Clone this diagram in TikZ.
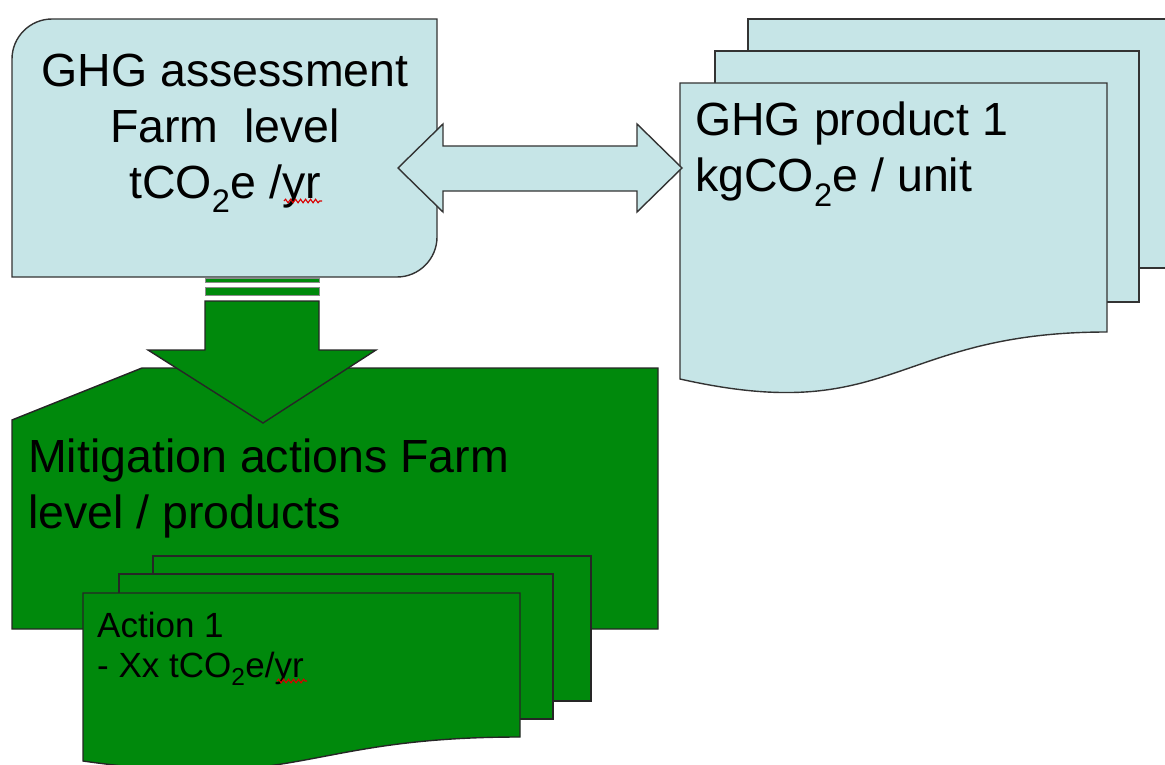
\documentclass[tikz,border=0pt]{standalone}
\usepackage{fontspec}
\setmainfont{Liberation Sans}
\usetikzlibrary{positioning,decorations.pathmorphing}
\definecolor{paleblue}{RGB}{198,229,231}
\definecolor{leafgreen}{RGB}{0,137,12}

\begin{document}
\begin{tikzpicture}[x=1pt,y=-1pt,
	bluepart/.style={fill=paleblue,draw=black!80,line width=1.4pt},
	greenpart/.style={fill=leafgreen,draw=black!85,line width=1.4pt},
	bigtext/.style={font=\fontsize{46.5}{56}\selectfont,inner sep=0pt},
	smalltext/.style={font=\fontsize{35}{40}\selectfont,inner sep=0pt},
	spell/.style={draw=red!85!black,line width=1.1pt,decorate,decoration={snake,amplitude=1.8pt,segment length=5pt}}]
		\useasboundingbox (0,0) rectangle (1165,765);
		\begin{scope}
		\clip (0,0) rectangle (1165,765);

		\draw[bluepart] (12,277) -- (12,59) .. controls (12,37) and (30,19) .. (52,19) -- (437,19)
			-- (437,237) .. controls (437,259) and (419,277) .. (397,277) -- cycle;
		\node[bigtext,align=center,anchor=base] (farm) at (225,198) {GHG assessment\\Farm~ level\\tCO\textsubscript{2}e /yr};
		\draw[spell] (284,201) -- (322,201);

		\draw[bluepart] (748,19) rectangle (1200,268);
		\draw[bluepart] (715,51) rectangle (1139,302);
		\draw[bluepart] (680,83) -- (1107,83) -- (1107,332) .. controls (893,332) and (893,427) .. (680,379) -- cycle;
		\node[bigtext,align=left,anchor=base west] (prod) at (695,192) {GHG product 1\\kgCO\textsubscript{2}e / unit};

		\draw[bluepart] (398,168) -- (443,124) -- (443,146) -- (637,146) -- (637,124) -- (682,168)
			-- (637,212) -- (637,191) -- (443,191) -- (443,212) -- cycle;

		\draw[greenpart] (12,420) -- (142,368) -- (658,368) -- (658,629) -- (12,629) -- cycle;
		\node[bigtext,align=left,anchor=base west] (mitig) at (28,528) {Mitigation actions Farm\\level / products};

		\draw[greenpart,draw=black!45,line width=0.8pt] (205,278) rectangle (319,282);
		\draw[greenpart,draw=black!45,line width=0.8pt] (205,287) rectangle (319,295);
		\draw[greenpart] (205,301) -- (319,301) -- (319,350) -- (376,350) -- (263,423) -- (148,350) -- (205,350) -- cycle;

		\draw[greenpart] (153,556) rectangle (591,701);
		\draw[greenpart] (119,574) rectangle (553,719);
		\draw[greenpart] (83,593) -- (520,593) -- (520,737) .. controls (301.5,737) and (301.5,792) .. (83,761) -- cycle;
		\node[smalltext,align=left,anchor=base west] (act) at (97,677) {Action 1\\- Xx tCO\textsubscript{2}e/yr};
		\draw[spell] (277,681) -- (307,681);
		\end{scope}
\end{tikzpicture}
\end{document}
